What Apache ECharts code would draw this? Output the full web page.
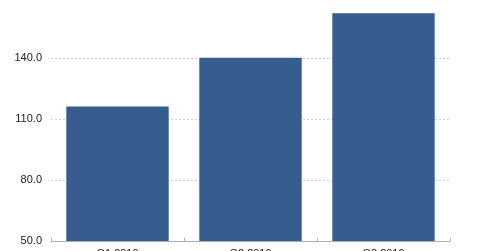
<!DOCTYPE html>
<html><head><meta charset="utf-8">
<script src="https://cdn.jsdelivr.net/npm/echarts@6/dist/echarts.min.js"></script>
<style>html,body{margin:0;padding:0;background:#fff}#c{width:480px;height:251px}</style>
</head><body><div id="c"></div>
<script>
const categories = ["Q1 2019", "Q2 2019", "Q3 2019"];
const values = [116.2, 140.3, 162.2];
const yTicks = [50, 80, 110, 140, 170];

const chart = echarts.init(document.getElementById('c'), null, {renderer: 'canvas'});
chart.setOption({
  animation: false,
  grid: {left: 51, right: 30, top: -2.6, bottom: 10, containLabel: false, outerBoundsMode: 'none'},
  xAxis: {
    type: 'category', data: categories,
    axisLine: {lineStyle: {color: '#b0b0b0', width: 1}},
    axisTick: {show: true, inside: true, length: 3, lineStyle: {color: '#b0b0b0'}},
    axisLabel: {color: '#222', fontFamily: 'Liberation Sans', fontSize: 11, margin: 7}
  },
  yAxis: {
    type: 'value', min: yTicks[0], max: yTicks[yTicks.length - 1], interval: 30,
    axisLine: {show: false}, axisTick: {show: false},
    axisLabel: {color: '#222', fontFamily: 'Liberation Sans', fontSize: 11, margin: 9,
      showMaxLabel: true, formatter: v => v.toFixed(1)},
    splitLine: {lineStyle: {color: '#cfcfcf', type: [2, 2], width: 1}}
  },
  series: [{
    type: 'bar', data: values, barCategoryGap: '23%',
    itemStyle: {color: '#365d8e'}
  }]
});
</script></body></html>
